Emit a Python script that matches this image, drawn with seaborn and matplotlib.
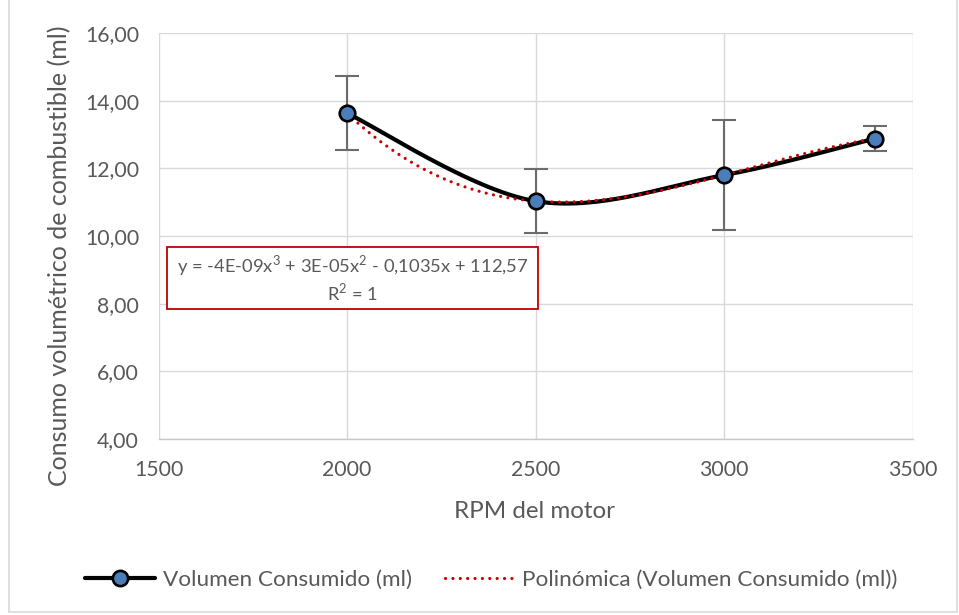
import numpy as np
import pandas as pd
import matplotlib
matplotlib.use("Agg")
import matplotlib.pyplot as plt
from matplotlib.ticker import FuncFormatter, MultipleLocator
from matplotlib.lines import Line2D
from matplotlib.patches import Rectangle
import seaborn as sns

rpm = [2000, 2500, 3000, 3400]
consumo = [13.63, 11.03, 11.80, 12.88]
error = [1.10, 0.95, 1.62, 0.38]
series_name = "Volumen Consumido (ml)"
trend_name = "Polinómica (Volumen Consumido (ml))"
equation = "y = -4E-09x$^3$ + 3E-05x$^2$ - 0,1035x + 112,57\nR$^2$ = 1"
x_label = "RPM del motor"
y_label = "Consumo volumétrico de combustible (ml)"

sns.set_theme(style="white")
plt.rcParams['font.family'] = ['Lato', 'DejaVu Sans']
plt.rcParams['mathtext.fontset'] = 'custom'
plt.rcParams['mathtext.rm'] = 'Lato'
txt = "#595959"
red = "#cc0000"
W, H = 959, 615

fig = plt.figure(figsize=(9.59, 6.15), dpi=100)
ax = fig.add_axes([158.5/W, 1-439/H, (912.5-158.5)/W, (439-33)/H])
ax.set_xlim(1500, 3500)
ax.set_ylim(4, 16)

# Excel-like smoothed line (Bezier through the points, computed in screen space)
sx = (912.5-158.5)/2000.0
sy = (439-33)/12.0
P = np.column_stack([np.array(rpm, float)*sx, np.array(consumo, float)*sy])
Pext = np.vstack([P[0], P, P[-1]])
curve = []
t = np.linspace(0, 1, 60)
for i in range(len(P)-1):
    p0, p1, p2, p3 = Pext[i], Pext[i+1], Pext[i+2], Pext[i+3]
    c1 = p1 + (p2 - p0)/6.0
    c2 = p2 - (p3 - p1)/6.0
    seg = (((1-t)**3)[:, None]*p1 + (3*(1-t)**2*t)[:, None]*c1
           + (3*(1-t)*t**2)[:, None]*c2 + (t**3)[:, None]*p2)
    curve.append(seg if i == 0 else seg[1:])
curve = np.vstack(curve)
smooth = pd.DataFrame({"x": curve[:, 0]/sx, "y": curve[:, 1]/sy})

coef = np.polyfit(rpm, consumo, 3)
xs = np.linspace(rpm[0], rpm[-1], 300)
poly = pd.DataFrame({"x": xs, "y": np.polyval(coef, xs)})

dotted = (0, (0.01, 2.3))
ax.errorbar(rpm, consumo, yerr=error, fmt="none", ecolor="#6b6b6b", elinewidth=1.5,
            capsize=8.5, capthick=1.5, zorder=3)
sns.lineplot(data=smooth, x="x", y="y", ax=ax, color="black", linewidth=3.0,
             sort=False, estimator=None, zorder=4)
sns.lineplot(data=poly, x="x", y="y", ax=ax, color=red, linewidth=2.3,
             linestyle=dotted, estimator=None, zorder=5)
ax.lines[-1].set_dash_capstyle("round")
sns.scatterplot(x=rpm, y=consumo, ax=ax, s=125, color="#4a7ebb", edgecolor="black",
                linewidth=1.9, zorder=6)

ax.xaxis.set_major_locator(MultipleLocator(500))
ax.yaxis.set_major_locator(MultipleLocator(2))
ax.yaxis.set_major_formatter(FuncFormatter(lambda v, p: f"{v:.2f}".replace(".", ",")))
ax.xaxis.set_major_formatter(FuncFormatter(lambda v, p: f"{int(v)}"))
ax.grid(True, color="#d9d9d9", linewidth=1.0)
ax.set_axisbelow(True)
for s in ["top", "right", "left"]:
    ax.spines[s].set_visible(False)
ax.spines["bottom"].set_color("#c8c8c8")
ax.spines["bottom"].set_linewidth(1.0)
ax.tick_params(axis="both", labelsize=15.3, colors=txt, length=0)
ax.tick_params(axis="x", pad=15)
ax.tick_params(axis="y", pad=14)
ax.set_xlabel("")
ax.set_ylabel("")
fig.text(534.5/W, 1-512/H, x_label, ha="center", va="center", fontsize=17.4, color=txt)
fig.text(60/W, 1-256/H, y_label, ha="center", va="center", rotation=90, fontsize=18, color=txt)

# equation box (opaque, above gridlines)
ax.add_patch(Rectangle((167/W, 1-309/H), (538-167)/W, (309-247)/H, transform=fig.transFigure,
                       facecolor="white", edgecolor="#c00000", linewidth=1.3, zorder=7,
                       clip_on=False))
ax.text(352.5/W, 1-278/H, equation, transform=fig.transFigure, ha="center", va="center",
        fontsize=13.2, color=txt, linespacing=1.2, zorder=8)

h1 = Line2D([], [], color="black", linewidth=3.0, marker="o", markersize=11,
            markerfacecolor="#4a7ebb", markeredgecolor="black", markeredgewidth=1.9)
h2 = Line2D([], [], color=red, linewidth=2.3, linestyle=dotted, dash_capstyle="round")
fig.legend([h1, h2], [series_name, trend_name], loc="center",
           bbox_to_anchor=(491.5/W, 1-580/H), ncol=2, frameon=False, fontsize=16.2,
           labelcolor=txt, handlelength=3.1, columnspacing=1.45, handletextpad=0.36,
           borderpad=0, borderaxespad=0)

# chart border (left, right, bottom)
bc = "#d9d9d9"
fig.add_artist(Line2D([8.5/W, 8.5/W], [1-612/H, 1.0], transform=fig.transFigure, color=bc, lw=1.2))
fig.add_artist(Line2D([956.5/W, 956.5/W], [1-612/H, 1.0], transform=fig.transFigure, color=bc, lw=1.2))
fig.add_artist(Line2D([8.5/W, 956.5/W], [1-612/H, 1-612/H], transform=fig.transFigure, color=bc, lw=1.2))

fig.savefig("out.png", dpi=100, facecolor="white")
